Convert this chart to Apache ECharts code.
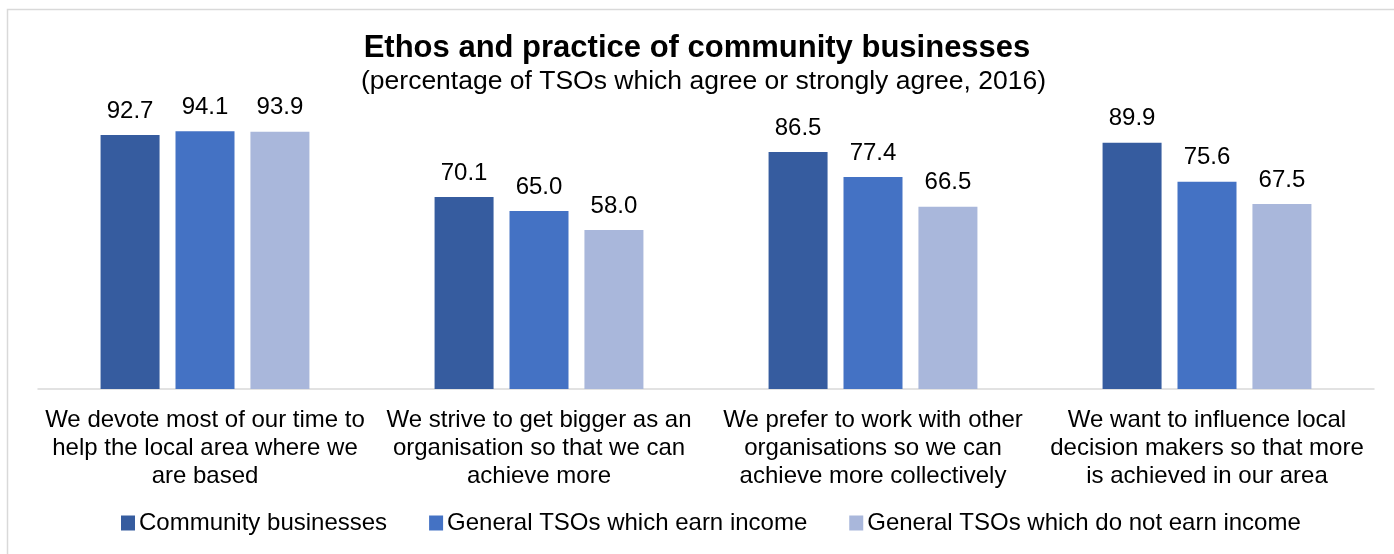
<!DOCTYPE html>
<html><head><meta charset="utf-8">
<script src="https://cdn.jsdelivr.net/npm/echarts@6/dist/echarts.min.js"></script>
<style>html,body{margin:0;padding:0;background:#fff}#c{width:1394px;height:554px}</style>
</head><body><div id="c"></div>
<script>
const categories = [
  "We devote most of our time to\nhelp the local area where we\nare based",
  "We strive to get bigger as an\norganisation so that we can\nachieve more",
  "We prefer to work with other\norganisations so we can\nachieve more collectively",
  "We want to influence local\ndecision makers so that more\nis achieved in our area"
];
const seriesNames = ["Community businesses", "General TSOs which earn income", "General TSOs which do not earn income"];
const communityBusinesses = [92.7, 70.1, 86.5, 89.9];
const tsosEarnIncome = [94.1, 65.0, 77.4, 75.6];
const tsosNoIncome = [93.9, 58.0, 66.5, 67.5];
const titleText = "Ethos and practice of community businesses";
const subtitleText = "(percentage of TSOs which agree or strongly agree, 2016)";
const colors = ["#365c9f", "#4472c4", "#a9b7db"];
const font = "Liberation Sans, Arial, sans-serif";

const chart = echarts.init(document.getElementById('c'), null, {renderer: 'canvas'});
const values = [communityBusinesses, tsosEarnIncome, tsosNoIncome];
chart.setOption({
  animation: false,
  textStyle: {fontFamily: font},
  title: [{
    text: titleText,
    left: 'center', top: 33, padding: 0,
    textStyle: {fontFamily: font, fontSize: 31, fontWeight: 'bold', color: '#000'}
  }, {
    text: subtitleText,
    left: 361, top: 68, padding: 0,
    textStyle: {fontFamily: font, fontSize: 26.5, fontWeight: 'normal', color: '#000'}
  }],
  graphic: [{type: 'rect', shape: {x: 7.5, y: 9.5, width: 1420, height: 580}, style: {fill: 'none', stroke: '#d9d9d9', lineWidth: 1.5}, silent: true}],
  legend: {
    top: 506, left: 116, itemWidth: 14, itemHeight: 15, itemGap: 42,
    icon: 'rect',
    textStyle: {fontFamily: font, fontSize: 24, color: '#000', padding: [0, 0, 0, -1]},
    data: seriesNames
  },
  grid: {left: 38, right: 20, top: 115, bottom: 165, containLabel: false},
  xAxis: {
    type: 'category', data: categories,
    axisLine: {lineStyle: {color: '#d9d9d9', width: 1.5}},
    axisTick: {show: false},
    axisLabel: {fontFamily: font, fontSize: 24, color: '#000', lineHeight: 28, margin: 17, interval: 0}
  },
  yAxis: {type: 'value', min: 0, max: 100, show: false, splitLine: {show: false}},
  series: seriesNames.map((n, i) => ({
    name: n, type: 'bar', data: values[i],
    barWidth: 59, barGap: '27%',
    itemStyle: {color: colors[i]},
    label: {show: true, position: 'top', distance: 12, fontFamily: font, fontSize: 24, color: '#000',
      formatter: p => p.value.toFixed(1)}
  }))
});
</script></body></html>
